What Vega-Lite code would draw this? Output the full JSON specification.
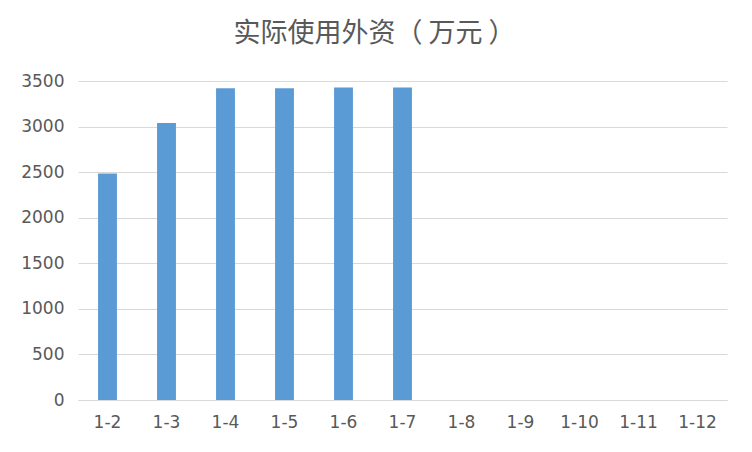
{
  "$schema": "https://vega.github.io/schema/vega-lite/v6.json",
  "description": "实际使用外资（万元）",
  "width": 649,
  "height": 319,
  "autosize": "none",
  "padding": {"left": 78, "top": 81, "right": 25, "bottom": 52},
  "background": "white",
  "title": {
    "text": "实际使用外资（ 万元 ）",
    "font": "Noto Sans CJK SC",
    "fontSize": 27,
    "fontWeight": "normal",
    "color": "#595959",
    "anchor": "middle",
    "dx": -28,
    "offset": 24
  },
  "data": {
    "values": [
      {"month": "1-2", "value": 2485},
      {"month": "1-3", "value": 3040},
      {"month": "1-4", "value": 3420},
      {"month": "1-5", "value": 3420},
      {"month": "1-6", "value": 3430},
      {"month": "1-7", "value": 3430},
      {"month": "1-8", "value": null},
      {"month": "1-9", "value": null},
      {"month": "1-10", "value": null},
      {"month": "1-11", "value": null},
      {"month": "1-12", "value": null}
    ]
  },
  "mark": {"type": "bar", "color": "#5B9BD5"},
  "encoding": {
    "x": {
      "field": "month",
      "type": "nominal",
      "sort": null,
      "scale": {
        "domain": ["1-2", "1-3", "1-4", "1-5", "1-6", "1-7", "1-8", "1-9", "1-10", "1-11", "1-12"],
        "paddingInner": 0.68,
        "paddingOuter": 0.34
      },
      "axis": {
        "title": null,
        "labelAngle": 0,
        "ticks": false,
        "domainColor": "#d9d9d9",
        "domainWidth": 1,
        "labelPadding": 14,
        "labelFont": "DejaVu Sans",
        "labelFontSize": 17,
        "labelColor": "#595959"
      }
    },
    "y": {
      "field": "value",
      "type": "quantitative",
      "scale": {"domain": [0, 3500], "nice": false},
      "axis": {
        "title": null,
        "format": "d",
        "values": [0, 500, 1000, 1500, 2000, 2500, 3000, 3500],
        "ticks": false,
        "domain": false,
        "gridColor": "#d9d9d9",
        "gridWidth": 1,
        "labelPadding": 14,
        "labelFont": "DejaVu Sans",
        "labelFontSize": 17,
        "labelColor": "#595959"
      }
    }
  },
  "config": {
    "view": {"stroke": null}
  }
}
